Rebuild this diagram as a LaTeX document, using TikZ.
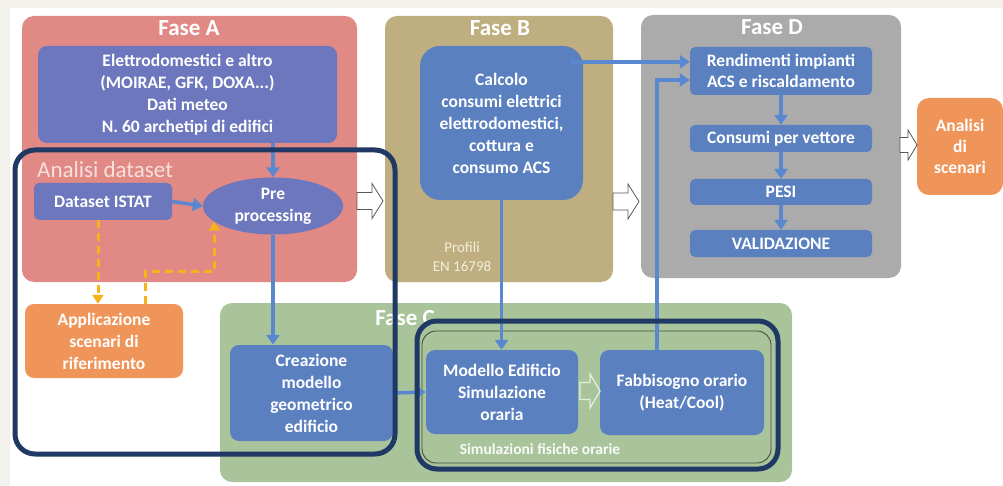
\documentclass[tikz,border=0pt]{standalone}
\usepackage{fontspec}
\setmainfont{Carlito}
\usetikzlibrary{arrows.meta,shapes.geometric}
\definecolor{bgbeige}{HTML}{F3F1EB}
\definecolor{faseA}{HTML}{E08985}
\definecolor{faseB}{HTML}{BFAE80}
\definecolor{faseC}{HTML}{A9C49B}
\definecolor{faseD}{HTML}{ABABAB}
\definecolor{purpbox}{HTML}{6C77BE}
\definecolor{bluebox}{HTML}{5B80C0}
\definecolor{orangebox}{HTML}{F0955A}
\definecolor{navy}{HTML}{1F3864}
\definecolor{arrblue}{HTML}{5A88D0}
\definecolor{ydash}{HTML}{F5B21A}
\definecolor{dsettxt}{HTML}{F8E0DE}
\definecolor{proftxt}{HTML}{F3EEDD}
\tikzset{
  panel/.style={rounded corners=12pt, draw=none, inner sep=0},
  box/.style={rounded corners=9pt, draw=none, text=white, align=center, inner sep=0,
    font=\bfseries\fontsize{17.5}{22}\selectfont},
  title/.style={text=white, font=\bfseries\fontsize{23}{26}\selectfont, inner sep=0},
  barrow/.style={draw=arrblue, line width=3.5pt, -{Triangle[width=13pt,length=10pt]}},
  yarrow/.style={draw=ydash, line width=3pt, dash pattern=on 8pt off 5pt, -{Triangle[width=11pt,length=9pt]}},
  navyline/.style={draw=navy, line width=5pt, rounded corners=20pt},
  hollowA/.pic={\draw[gray!70!black, line width=0.8pt, fill=white] (0,-8.5) -- (15,-8.5) -- (15,-17.5) -- (26,0) -- (15,17.5) -- (15,8.5) -- (0,8.5) -- cycle;},
  hollowS/.pic={\draw[gray!70!black, line width=0.8pt, fill=white] (0,-7.5) -- (8,-7.5) -- (8,-15) -- (17,0) -- (8,15) -- (8,7.5) -- (0,7.5) -- cycle;},
  hollowC/.pic={\draw[white!70!faseC, line width=1.3pt] (0,-8.5) -- (10,-8.5) -- (10,-17) -- (20,0) -- (10,17) -- (10,8.5) -- (0,8.5) -- cycle;},
}
\begin{document}
\begin{tikzpicture}[x=1pt,y=-1pt]
\useasboundingbox (0,0) rectangle (1003,486);
\fill[bgbeige] (0,0) rectangle (1003,486);
\fill[white] (10,8) rectangle (1003,486);

% panels
\node[panel, fill=faseA, minimum width=335pt, minimum height=266pt] (panA) at (189.5,149) {};
\node[panel, fill=faseB, minimum width=228pt, minimum height=266pt] (panB) at (499,149) {};
\node[panel, fill=faseD, minimum width=260pt, minimum height=263pt] (panD) at (771,146.5) {};
\node[panel, fill=faseC, minimum width=572pt, minimum height=179pt] (panC) at (506,392.5) {};

\node[title] (tA) at (189,28) {Fase A};
\node[title] (tB) at (500,28) {Fase B};
\node[title] (tD) at (772,27) {Fase D};
\node[title] (tC) at (405,318) {Fase C};

% Fase A
\node[box, fill=purpbox, minimum width=299pt, minimum height=97pt] (topA) at (187.5,94.5)
  {Elettrodomestici e altro\\(MOIRAE, GFK, DOXA...)\\Dati meteo\\N. 60 archetipi di edifici};
\node[anchor=west, text=dsettxt, font=\fontsize{23}{24}\selectfont, inner sep=0] (dset) at (37,170) {Analisi dataset};
\node[box, rounded corners=5pt, fill=purpbox, minimum width=138pt, minimum height=37pt] (istat) at (103,201.5) {Dataset ISTAT};
\node[ellipse, fill=purpbox, text=white, align=center, inner sep=0, minimum width=140pt, minimum height=57pt,
  font=\bfseries\fontsize{17.5}{22}\selectfont] (pre) at (273,206) {Pre\\processing};
\node[box, fill=orangebox, minimum width=158pt, minimum height=74pt] (appl) at (104,341)
  {Applicazione\\scenari di\\riferimento};

% Fase B
\node[box, rounded corners=20pt, fill=bluebox, minimum width=163pt, minimum height=154pt] (calc) at (501.5,123)
  {Calcolo\\consumi elettrici\\elettrodomestici,\\cottura e\\consumo ACS};
\node[text=proftxt, align=center, font=\fontsize{15}{19}\selectfont, inner sep=0] (prof) at (462,257) {Profili\\EN 16798};

% Fase D
\node[box, rounded corners=5pt, fill=bluebox, minimum width=182pt, minimum height=48pt,
  font=\bfseries\fontsize{17.5}{21}\selectfont] (rend) at (781,71) {Rendimenti impianti\\ACS e riscaldamento};
\node[box, rounded corners=5pt, fill=bluebox, minimum width=182pt, minimum height=27pt] (cons) at (781,138.5) {Consumi per vettore};
\node[box, rounded corners=5pt, fill=bluebox, minimum width=182pt, minimum height=26pt] (pesi) at (781,192) {PESI};
\node[box, rounded corners=5pt, fill=bluebox, minimum width=182pt, minimum height=27pt] (valid) at (781,243.5) {VALIDAZIONE};
\node[box, rounded corners=12pt, fill=orangebox, minimum width=86pt, minimum height=97pt,
  font=\bfseries\fontsize{17.5}{21}\selectfont] (scen) at (960,146.5) {Analisi\\di\\scenari};

% Fase C
\draw[draw=black!60!faseC, line width=0.9pt, rounded corners=14pt] (422,331) rectangle (771,463);
\node[box, fill=bluebox, minimum width=163pt, minimum height=96pt] (crea) at (311.5,393)
  {Creazione\\modello\\geometrico\\edificio};
\node[box, fill=bluebox, minimum width=152pt, minimum height=84pt] (mod) at (502,392)
  {Modello Edificio\\Simulazione\\oraria};
\node[box, fill=bluebox, minimum width=164pt, minimum height=85pt] (fabb) at (682,392.5)
  {Fabbisogno orario\\(Heat/Cool)};
\node[text=white!92!faseC, font=\bfseries\fontsize{15.5}{17}\selectfont, inner sep=0] (simf) at (540,449) {Simulazioni fisiche orarie};

% hollow arrows
\pic at (357,201) {hollowA};
\pic at (613,201.5) {hollowA};
\pic at (900,145) {hollowS};
\pic at (580,391) {hollowC};

% blue connectors
\draw[barrow] (topA.south -| pre.north) -- (pre.north);
\draw[barrow] (istat.east) -- (pre.west);
\draw[barrow] (pre.south) -- (pre.south |- crea.north);
\draw[barrow] (crea.east) -- (mod.west);
\draw[barrow] (calc.south) -- (calc.south |- mod.north);
\coordinate (rtop) at ([yshift=-15pt]rend.north west);
\draw[barrow] ([xshift=-13pt]calc.east |- rtop) -- (rtop);
\coordinate (rbot) at ([yshift=-9pt]rend.west);
\draw[barrow] ([xshift=-25pt]fabb.north) |- (rbot);
\draw[barrow] (rend.south) -- (cons.north);
\draw[barrow] (cons.south) -- (pesi.north);
\draw[barrow] (pesi.south) -- (valid.north);

% yellow dashed connectors
\draw[yarrow] ([xshift=-5pt]istat.south) -- ([xshift=-5pt]istat.south |- appl.north);
\draw[yarrow] ([xshift=41pt]appl.north) -- ++(0,-32) -| (pre.195);

% navy hand-drawn outlines
\draw[navyline] (15,150) rectangle (395,454);
\draw[navyline] (417,321) rectangle (778,469);
\end{tikzpicture}
\end{document}
